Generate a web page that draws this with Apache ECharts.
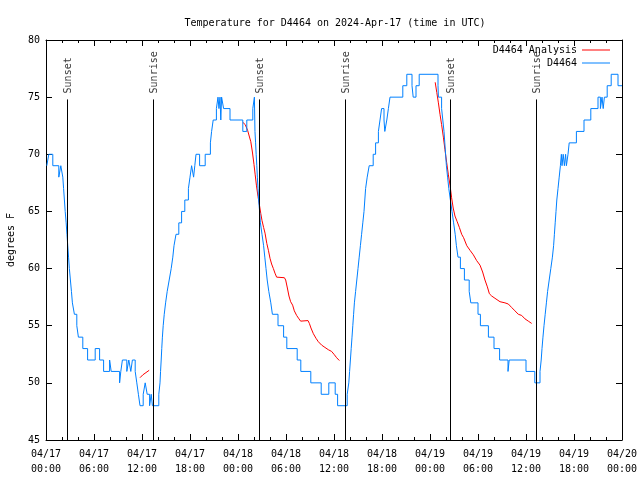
<!DOCTYPE html>
<html>
<head>
<meta charset="utf-8">
<script src="https://cdn.jsdelivr.net/npm/echarts@6/dist/echarts.min.js"></script>
<style>html,body{margin:0;padding:0;background:#fff}#c{width:640px;height:480px}</style>
</head>
<body>
<div id="c"></div>
<script>
// x values are hours since 2024-04-17 00:00 UTC
const xTickLabels = ['04/17\n00:00','04/17\n06:00','04/17\n12:00','04/17\n18:00','04/18\n00:00','04/18\n06:00','04/18\n12:00','04/18\n18:00','04/19\n00:00','04/19\n06:00','04/19\n12:00','04/19\n18:00','04/20\n00:00'];
const yTicks = [45, 50, 55, 60, 65, 70, 75, 80];

const sunEventNames = ['Sunset','Sunrise','Sunset','Sunrise','Sunset','Sunrise'];
const sunEventHours = [2.67, 13.42, 26.67, 37.42, 50.54, 61.30];

// D4464 observed (integer °F, value holds until next change)
const observed = [
[0.1,69],[0.35,70],[0.85,69],[1.6,68],[1.85,69],[2.1,68],[2.2,67],[2.3,66],[2.4,65],[2.52,64],[2.62,63],[2.72,62],[2.82,61],[2.92,60],[3.05,59],[3.18,58],[3.3,57],[3.55,56],[3.85,55],[4.05,54],[4.6,53],[5.2,52],[6.15,53],[6.7,52],[7.2,51],[7.95,52],[8.15,51],[9.2,50],[9.35,51],[9.55,52],[10.1,51],[10.35,52],[10.6,51],[10.8,52],[11.15,51],[11.35,50],[11.55,49],[11.75,48],[12.15,49],[12.4,50],[12.65,49],[12.95,48],[13.15,49],[13.3,48],[14.1,49],[14.25,50],[14.32,51],[14.4,52],[14.47,53],[14.55,54],[14.65,55],[14.78,56],[14.95,57],[15.15,58],[15.4,59],[15.65,60],[15.85,61],[16.0,62],[16.25,63],[16.6,64],[16.95,65],[17.35,66],[17.8,67],[18.0,68],[18.2,69],[18.45,68],[18.6,69],[18.75,70],[19.2,69],[19.9,70],[20.55,71],[20.7,72],[20.9,73],[21.3,74],[21.5,75],[21.62,74],[21.75,75],[21.85,73],[21.95,75],[22.2,74],[23.0,73],
[24.6,72],[25.1,73],[25.85,74],[26.05,75],[26.12,72],[26.2,71],[26.27,70],[26.35,69],[26.42,68],[26.5,67],[26.58,66],[26.7,65],[26.8,64],[27.0,63],[27.2,62],[27.35,61],[27.5,60],[27.65,59],[27.85,58],[28.1,57],[28.3,56],[29.0,55],[29.7,54],[30.1,53],[31.4,52],[31.85,51],[33.1,50],[34.4,49],[35.35,50],[36.15,49],[36.45,48],[37.65,49],[37.85,50],[37.95,51],[38.05,52],[38.15,53],[38.25,54],[38.35,55],[38.45,56],[38.55,57],[38.7,58],[38.85,59],[39.0,60],[39.15,61],[39.3,62],[39.45,63],[39.6,64],[39.75,65],[39.85,66],[39.95,67],[40.15,68],[40.4,69],[40.9,70],[41.2,71],[41.55,72],[41.75,73],[41.95,74],[42.25,73],[42.35,72],[42.6,73],[42.8,74],[43.0,75],[44.6,76],[45.1,77],[45.75,76],[45.9,75],[46.25,76],[46.65,77],
[49.0,76],[49.05,75],[49.45,74],[49.6,73],[49.75,72],[49.85,71],[49.95,70],[50.05,69],[50.2,68],[50.35,67],[50.55,66],[50.75,65],[50.95,64],[51.15,63],[51.3,62],[51.5,61],[51.8,60],[52.3,59],[52.9,58],[53.1,57],[54.0,56],[54.3,55],[55.3,54],[56.0,53],[56.7,52],[57.75,51],[57.9,52],[60.0,51],[61.1,50],[61.75,51],[61.9,52],[62.0,53],[62.12,54],[62.25,55],[62.4,56],[62.55,57],[62.7,58],[62.9,59],[63.1,60],[63.3,61],[63.45,62],[63.55,63],[63.65,64],[63.75,65],[63.85,66],[64.0,67],[64.15,68],[64.3,69],[64.42,70],[64.5,69],[64.65,70],[64.8,69],[64.95,70],[65.05,69],[65.25,70],[65.4,71],[66.3,72],[67.25,73],[68.1,74],[69.0,75],[69.3,74],[69.5,75],[69.65,74],[69.8,75],[70.15,76],[70.65,77],[71.5,76],[72,76]
];

// D4464 Analysis, three evening segments
const analysisDay1 = [[11.75,50.45],[12.1,50.7],[12.5,50.9],[12.9,51.1]];
const analysisDay2 = [[24.6,72.8],[24.9,72.6],[25.2,72.1],[25.4,71.6],[25.6,71.1],[25.8,70.2],[26.0,69.1],[26.15,68.2],[26.3,67.3],[26.5,66.3],[26.67,65.6],[26.85,64.8],[27.0,64.2],[27.2,63.6],[27.38,63.1],[27.6,62.2],[27.8,61.6],[28.0,60.9],[28.2,60.4],[28.42,60.0],[28.62,59.6],[28.83,59.25],[29.8,59.2],[29.96,59.0],[30.17,58.3],[30.37,57.6],[30.58,57.1],[30.83,56.8],[31.04,56.3],[31.33,55.9],[31.62,55.6],[31.83,55.4],[32.75,55.45],[32.92,55.2],[33.12,54.8],[33.42,54.3],[33.75,53.9],[34.04,53.6],[34.46,53.3],[34.87,53.1],[35.29,52.9],[35.7,52.75],[36.0,52.5],[36.33,52.2],[36.67,51.95]];
const analysisDay3 = [[48.65,76.3],[48.85,75.4],[49.05,74.5],[49.25,73.5],[49.45,72.6],[49.67,71.5],[49.87,70.4],[50.08,69.3],[50.3,68.2],[50.5,67.3],[50.7,66.2],[50.9,65.3],[51.12,64.6],[51.4,64.1],[51.67,63.6],[51.96,63.0],[52.2,62.7],[52.6,62.0],[53.0,61.6],[53.42,61.2],[53.83,60.7],[54.25,60.3],[54.58,59.7],[54.87,59.0],[55.17,58.4],[55.42,57.8],[55.71,57.6],[56.12,57.4],[56.75,57.1],[57.37,57.0],[57.79,56.9],[58.2,56.6],[58.62,56.3],[59.04,56.0],[59.46,55.9],[59.87,55.6],[60.29,55.4],[60.71,55.2]];

const SUN_LINE_TOP = 74.8;
const FONT = 'DejaVu Sans Mono';
const gap = ['-', '-'];
const analysis = [].concat(analysisDay1, [gap], analysisDay2, [gap], analysisDay3);

const chart = echarts.init(document.getElementById('c'), null, {renderer: 'canvas'});

const xBase = {
  type: 'value', min: 0, max: 72, interval: 6,
  axisLine: {show: true, onZero: false, lineStyle: {color: '#000', width: 1}},
  axisTick: {show: true, inside: true, length: 6, lineStyle: {color: '#000'}},
  minorTick: {show: true, splitNumber: 3, length: 3, lineStyle: {color: '#000'}},
  splitLine: {show: false}
};
const yBase = {
  type: 'value', min: 45, max: 80, interval: 5,
  axisLine: {show: true, onZero: false, lineStyle: {color: '#000', width: 1}},
  axisTick: {show: true, inside: true, length: 6, lineStyle: {color: '#000'}},
  splitLine: {show: false}
};

chart.setOption({
  animation: false,
  backgroundColor: '#fff',
  title: {
    text: 'Temperature for D4464 on 2024-Apr-17 (time in UTC)',
    left: 330, top: 13, textAlign: 'center',
    textStyle: {fontFamily: FONT, fontSize: 10, fontWeight: 'normal', color: '#000'}
  },
  legend: {
    data: ['D4464 Analysis', 'D4464'],
    orient: 'vertical', align: 'right',
    right: 30, top: 44, padding: 0,
    itemWidth: 28, itemHeight: 1, itemGap: 1,
    icon: 'rect',
    textStyle: {fontFamily: FONT, fontSize: 10, color: '#000', lineHeight: 12},
    selectedMode: false
  },
  grid: {left: 46, right: 18, top: 40, bottom: 40, containLabel: false, outerBoundsMode: 'none'},
  xAxis: [
    Object.assign({}, xBase, {
      position: 'bottom',
      axisLabel: {
        show: true, margin: 7, showMinLabel: true, showMaxLabel: true,
        fontFamily: FONT, fontSize: 10, color: '#000', lineHeight: 15,
        formatter: v => xTickLabels[Math.round(v / 6)]
      }
    }),
    Object.assign({}, xBase, {position: 'top', axisLabel: {show: false}})
  ],
  yAxis: [
    Object.assign({}, yBase, {
      position: 'left',
      name: 'degrees F', nameLocation: 'middle', nameGap: 30, nameRotate: 90,
      nameTextStyle: {fontFamily: FONT, fontSize: 10, color: '#000'},
      axisLabel: {
        show: true, margin: 6, fontFamily: FONT, fontSize: 10, color: '#000',
        formatter: v => yTicks.indexOf(v) >= 0 ? String(v) : ''
      }
    }),
    Object.assign({}, yBase, {position: 'right', axisLabel: {show: false}})
  ],
  series: [
    {
      name: 'D4464 Analysis', type: 'line', data: analysis,
      showSymbol: false, symbol: 'none', connectNulls: false,
      lineStyle: {color: '#ff0000', width: 1}, itemStyle: {color: '#ff0000'},
      z: 2
    },
    {
      name: 'D4464', type: 'line', data: observed, step: 'end',
      showSymbol: false, symbol: 'none',
      lineStyle: {color: '#0080ff', width: 1}, itemStyle: {color: '#0080ff'},
      z: 3
    },
    {
      name: 'sun', type: 'scatter', symbolSize: 0, z: 4,
      data: sunEventHours.map((h, i) => ({name: sunEventNames[i], value: [h, SUN_LINE_TOP]})),
      label: {
        show: true, formatter: '{b}', rotate: 90, position: [1, -6],
        align: 'left', verticalAlign: 'middle',
        fontFamily: FONT, fontSize: 10, color: '#000'
      },
      markLine: {
        silent: true, symbol: 'none', animation: false,
        label: {show: false},
        lineStyle: {color: '#000', width: 1, type: 'solid'},
        data: sunEventHours.map(h => [{coord: [h, SUN_LINE_TOP]}, {coord: [h, 45]}])
      }
    }
  ]
});
</script>
</body>
</html>
